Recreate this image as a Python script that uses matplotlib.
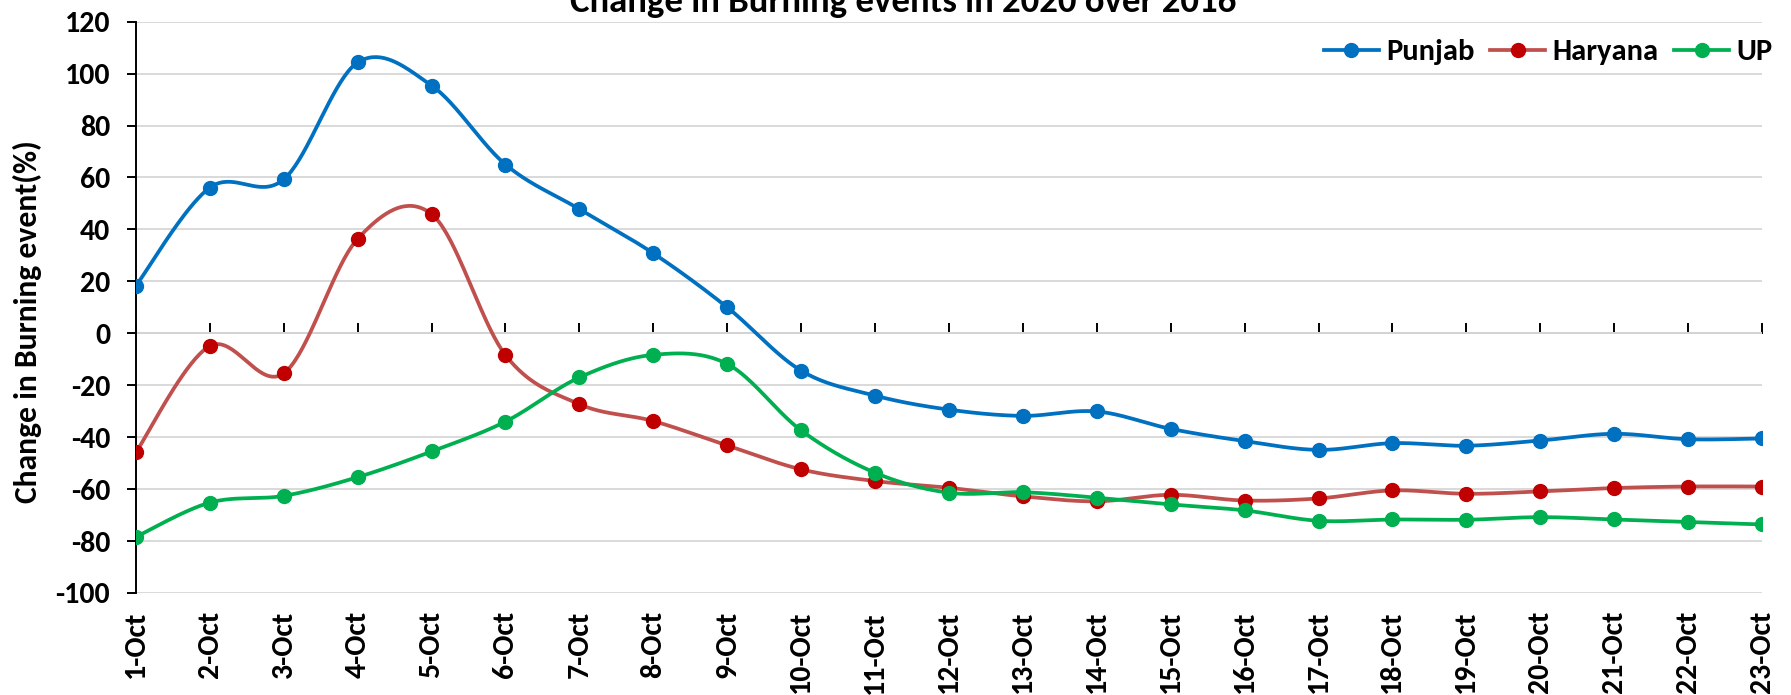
import numpy as np
import matplotlib.pyplot as plt

plt.rcParams['font.family'] = ['Carlito', 'DejaVu Sans']
plt.rcParams['font.weight'] = 'bold'
plt.rcParams['axes.unicode_minus'] = False

# values (% change 2020 vs 2016)
days = [f"{d}-Oct" for d in range(1, 24)]
punjab = [18.3, 56.1, 59.3, 104.3, 95.4, 65.0, 47.8, 30.8, 10.0, -14.4, -24.0, -29.4,
          -31.8, -30.1, -36.8, -41.5, -44.9, -42.3, -43.3, -41.3, -38.7, -40.8, -40.5]
haryana = [-45.8, -4.9, -15.4, 36.4, 45.9, -8.4, -27.3, -33.8, -43.2, -52.4, -56.9, -59.5,
           -62.8, -64.7, -62.2, -64.4, -63.6, -60.5, -61.8, -60.9, -59.6, -59.0, -59.0]
up = [-78.4, -65.2, -62.6, -55.4, -45.5, -34.0, -17.0, -8.3, -11.8, -37.4, -53.7, -61.4,
      -61.2, -63.3, -65.9, -68.2, -72.2, -71.7, -71.8, -70.8, -71.7, -72.7, -73.6]


def smooth(y, n=40):
    """Excel-like smoothed line: Catmull-Rom segments as cubic Beziers."""
    y = np.asarray(y, float)
    x = np.arange(len(y), dtype=float)
    xp = np.concatenate([[x[0]], x, [x[-1]]])
    yp = np.concatenate([[y[0]], y, [y[-1]]])
    t = np.linspace(0, 1, n)
    xs, ys = [], []
    for i in range(len(y) - 1):
        for p, out in ((xp, xs), (yp, ys)):
            p0, p1, p2, p3 = p[i:i + 4]
            c1 = p1 + (p2 - p0) / 6
            c2 = p2 - (p3 - p1) / 6
            out.append((1 - t) ** 3 * p1 + 3 * (1 - t) ** 2 * t * c1
                       + 3 * (1 - t) * t ** 2 * c2 + t ** 3 * p2)
    return np.concatenate(xs), np.concatenate(ys)


fig = plt.figure(figsize=(17.91, 6.95), dpi=100)
ax = fig.add_axes([0.0759, 0.1468, 0.9079, 0.822])

series = [
    ("Punjab", punjab, '#0070C0', '#0070C0'),
    ("Haryana", haryana, '#C0504D', '#C00000'),
    ("UP", up, '#00B050', '#00B050'),
]
x = np.arange(len(days))
handles = []
for name, vals, lc, mc in series:
    sx, sy = smooth(vals)
    ax.plot(sx, sy, color=lc, lw=2.7, solid_capstyle='round', zorder=3)
    ax.plot(x, vals, ls='none', marker='o', ms=10, color=mc, zorder=4)
    h, = ax.plot([], [], color=lc, lw=2.7, marker='o', ms=10, mfc=mc, mec=mc, label=name)
    handles.append(h)

ymin, ymax = -100, 120
ax.set_ylim(ymin, ymax)
ax.set_xlim(0, len(days) - 1)
ax.set_yticks(range(ymin, ymax + 1, 20))
ax.set_xticks(x, days, rotation=90)
ax.yaxis.grid(True, color='#D9D9D9', lw=1.4)
ax.set_axisbelow(True)

for s in ('top', 'right', 'bottom'):
    ax.spines[s].set_visible(False)
ax.spines['left'].set_linewidth(1.4)
ax.tick_params(axis='y', length=6.5, width=1.4, pad=12, labelsize=21.5)
ax.tick_params(axis='x', length=0, pad=13, labelsize=21.5)
for lab in ax.get_xticklabels() + ax.get_yticklabels():
    lab.set_fontweight('bold')

# category axis line crossing at zero, with ticks pointing up
zero = (0 - ymin) / (ymax - ymin)
sec = ax.secondary_xaxis(zero)
sec.set_xticks(x)
sec.tick_params(axis='x', direction='in', length=7, width=1.4,
                labelbottom=False, labeltop=False)
for s in sec.spines.values():
    s.set_linewidth(1.4)

ax.set_ylabel("Change in Burning event(%)", fontsize=22.8, fontweight='bold')
ax.yaxis.set_label_coords(-0.0578, 0.475)

fig.text(0.504, 0.983, "Change in Burning events in 2020 over 2016",
         ha='center', va='baseline', fontsize=26.5, fontweight='bold')

ax.legend(handles=handles, ncol=3, loc='center right', frameon=False,
          bbox_to_anchor=(1773 / 1791, 1 - 52 / 695), bbox_transform=fig.transFigure,
          prop={'size': 22, 'weight': 'bold'}, handlelength=1.8, handletextpad=0.25,
          columnspacing=0.5, borderpad=0, borderaxespad=0)

fig.savefig("out.png", dpi=100)
